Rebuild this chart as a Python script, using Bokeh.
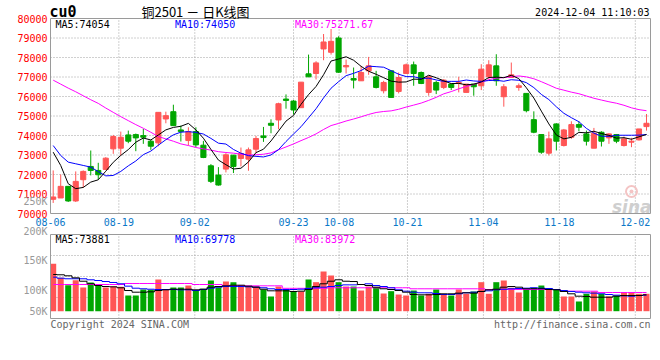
from bokeh.plotting import figure
from bokeh.models import Range1d, ColumnDataSource
from bokeh.embed import file_html
from bokeh.resources import INLINE
from bokeh.core.properties import value

# ---------------- data ----------------
dates = ["08-06", "08-19", "09-02", "09-23", "10-08", "10-21", "11-04", "11-18", "12-02"]
date_idx = [0, 9, 19, 32, 38, 47, 57, 67, 77]

opens = [70728, 70796, 71392, 70643, 71732, 72413, 72209, 72260, 73315, 73349,
         74030, 74047, 73996, 73707, 73622, 74847, 75221, 74285, 73741, 74200,
         73503, 72447, 71971, 72277, 72992, 72822, 72788, 73298, 73979, 74626,
         74796, 75868, 75766, 75426, 77162, 77179, 78438, 78268, 79000, 77520,
         76920, 76805, 77316, 77009, 76295, 77316, 76261, 77180, 77622, 77231,
         76210, 76720, 76465, 76635, 76670, 76210, 76635, 76550, 77009, 77571,
         75988, 76975, 76465, 76159, 74814, 74048, 73095, 74593, 73486, 73912,
         74559, 74082, 73350, 74167, 73878, 74048, 73486, 73657, 73776, 74456]
highs = [72209, 72004, 71392, 72158, 72209, 73230, 72600, 72889, 74030, 74200,
         74251, 74100, 74336, 73775, 75187, 75221, 75579, 74506, 74421, 74421,
         73724, 72533, 72379, 73094, 72992, 73383, 73383, 73979, 74439, 74830,
         75681, 76107, 75817, 76736, 78149, 77809, 79204, 79460, 79085, 77894,
         77486, 77571, 78031, 77316, 76805, 77316, 77231, 77690, 77792, 77282,
         77060, 76805, 76890, 76635, 77009, 76635, 76635, 77656, 77860, 78167,
         76635, 77741, 76669, 76159, 75239, 74048, 74201, 74627, 74337, 74729,
         74729, 74252, 74388, 74218, 74116, 74048, 73946, 73878, 74337, 75103]
lows = [70541, 70796, 70592, 70592, 71324, 71953, 71749, 72260, 73060, 72975,
        73605, 73196, 73571, 73264, 73451, 74626, 74506, 73690, 73485, 73400,
        72839, 71562, 71426, 72107, 72073, 72413, 72192, 73094, 73673, 74115,
        74320, 75375, 75085, 75426, 77009, 76873, 77860, 78149, 77213, 77179,
        76414, 76805, 77112, 76414, 76159, 75954, 76159, 77180, 76550, 76635,
        76039, 76124, 76380, 76329, 76210, 76210, 76039, 76329, 76890, 76550,
        75478, 76975, 76295, 75188, 74116, 73061, 72976, 73231, 73435, 73827,
        74218, 73486, 73350, 73435, 73571, 73605, 73435, 73401, 73742, 74252]
closes = [70847, 71392, 70643, 71647, 72158, 72209, 71987, 72838, 73945, 73911,
          73707, 73877, 73911, 73451, 75187, 75017, 74506, 74200, 74200, 73519,
          72873, 71648, 71460, 73009, 72413, 73077, 73264, 73843, 73894, 74524,
          75630, 75800, 75307, 76736, 77009, 77724, 78796, 78830, 77247, 77588,
          76840, 77231, 77571, 76465, 76720, 75954, 76975, 77622, 77180, 76669,
          77009, 76329, 76839, 76465, 76720, 76635, 76499, 77401, 77622, 76805,
          76499, 77112, 76550, 75273, 74167, 73146, 73827, 73708, 74286, 74559,
          74423, 73708, 74116, 73708, 74082, 73708, 73827, 73708, 74337, 74627]

ma5 = [73145, 72464, 71528, 71273, 71337, 71610, 71729, 72168, 72627, 72978,
       73278, 73656, 73870, 73771, 74027, 74289, 74414, 74472, 74622, 74288,
       73860, 73288, 72740, 72502, 72281, 72321, 72645, 73121, 73298, 73720,
       74231, 74738, 75031, 75599, 76096, 76515, 77114, 77819, 77921, 78037,
       77860, 77547, 77295, 77139, 76965, 76788, 76737, 76747, 76890, 76880,
       77091, 76962, 76805, 76662, 76672, 76598, 76632, 76744, 76975, 76992,
       76965, 77088, 76918, 76448, 75920, 75250, 74593, 74024, 73827, 73905,
       74161, 74137, 74218, 74103, 74007, 73864, 73888, 73807, 73932, 74054]
ma10 = [73485, 72975, 72634, 72549, 72464, 72378, 72150, 71930, 71950, 72158,
        72444, 72693, 73019, 73199, 73503, 73784, 74035, 74171, 74197, 74158,
        74075, 73851, 73606, 73562, 73285, 73091, 72967, 72931, 72900, 73001,
        73276, 73692, 74076, 74449, 74908, 75373, 75926, 76425, 76760, 77067,
        77188, 77331, 77557, 77530, 77501, 77324, 77142, 77021, 77015, 76923,
        76940, 76850, 76776, 76776, 76776, 76845, 76797, 76775, 76819, 76832,
        76782, 76860, 76831, 76712, 76456, 76108, 75841, 75471, 75138, 74913,
        74706, 74365, 74121, 73965, 73956, 74013, 74013, 74013, 74018, 74050]
ma30 = [76838, 76634, 76430, 76242, 76038, 75834, 75647, 75408, 75187, 74966,
        74762, 74558, 74370, 74166, 73945, 73826, 73707, 73570, 73485, 73384,
        73315, 73250, 73170, 73128, 73094, 73043, 73000, 73010, 73040, 73105,
        73265, 73412, 73567, 73737, 73898, 74082, 74309, 74509, 74619, 74742,
        74846, 74958, 75080, 75180, 75231, 75263, 75345, 75459, 75558, 75663,
        75801, 75957, 76137, 76252, 76395, 76514, 76622, 76740, 76865, 76941,
        76970, 77013, 77055, 77006, 76911, 76759, 76593, 76422, 76324, 76223,
        76142, 76025, 75909, 75818, 75730, 75655, 75550, 75419, 75325, 75272]

# volume, in thousands (K)
vol = [145.1, 121.6, 109.2, 117.6, 105.4, 113.8, 108.2, 105.4, 107.0, 106.5,
       91.9, 91.9, 102.0, 101.5, 118.8, 101.5, 105.4, 105.4, 108.7, 100.3,
       103.2, 117.1, 105.4, 115.4, 114.3, 109.2, 107.6, 107.6, 102.0, 90.3,
       107.0, 102.0, 98.7, 98.7, 118.8, 114.3, 132.2, 125.5, 114.3, 107.0,
       107.0, 100.3, 107.0, 105.9, 95.3, 99.2, 93.6, 91.9, 100.3, 91.9,
       94.8, 102.0, 93.6, 91.9, 102.0, 94.8, 98.7, 114.3, 94.8, 114.3,
       117.1, 104.9, 97.0, 103.2, 104.9, 108.7, 103.2, 101.5, 90.3, 90.3,
       81.9, 94.8, 98.7, 94.8, 90.3, 91.9, 96.5, 96.5, 94.8, 94.8]
vma5 = [127.2, 126.7, 125.0, 121.6, 115.9, 111.6, 108.7, 107.0, 106.5, 104.9,
        100.3, 97.5, 97.5, 98.1, 100.3, 101.5, 102.5, 102.5, 102.5, 101.5,
        102.5, 105.9, 107.0, 108.2, 109.2, 109.2, 107.6, 105.9, 102.5, 99.8,
        99.8, 99.8, 98.7, 99.2, 102.0, 107.0, 111.6, 115.9, 118.3, 115.9,
        115.4, 110.4, 108.7, 105.9, 103.2, 102.0, 100.3, 97.5, 93.6, 93.1,
        93.1, 93.6, 94.8, 94.8, 95.9, 96.5, 95.9, 98.7, 101.5, 102.5,
        105.9, 107.0, 105.9, 103.2, 103.2, 103.2, 102.0, 101.5, 98.7, 94.8,
        90.8, 90.3, 89.1, 89.1, 89.1, 90.8, 91.9, 91.9, 91.9, 93.1]
vma10 = [122.7, 121.0, 120.0, 120.0, 120.0, 118.3, 117.1, 115.4, 113.8, 111.6,
         107.6, 104.2, 103.2, 102.5, 102.0, 102.0, 102.0, 101.5, 101.5, 100.3,
         102.0, 104.2, 105.9, 107.0, 107.0, 107.0, 106.5, 105.9, 104.9, 103.2,
         102.0, 102.0, 102.0, 102.5, 103.7, 104.9, 105.9, 107.0, 108.7, 109.8,
         109.8, 110.4, 111.6, 108.7, 107.0, 104.9, 101.5, 99.2, 97.5, 96.5,
         96.5, 95.3, 93.6, 93.6, 94.8, 96.5, 97.5, 98.7, 99.8, 101.5,
         102.5, 103.2, 103.7, 104.2, 104.9, 104.2, 103.7, 102.0, 100.3, 98.7,
         97.5, 96.5, 95.9, 94.8, 93.6, 92.5, 91.4, 90.8, 91.9, 92.5]
vma30 = [110.4, 110.4, 110.4, 110.4, 110.4, 110.4, 110.4, 110.4, 110.4, 110.4,
         112.1, 112.1, 112.1, 112.1, 112.1, 112.1, 112.1, 112.1, 112.1, 110.4,
         110.4, 110.4, 110.4, 108.2, 108.2, 108.2, 108.2, 108.2, 108.2, 108.2,
         108.2, 104.0, 104.0, 104.0, 104.0, 104.0, 104.0, 104.9, 104.9, 104.9,
         104.9, 104.9, 104.9, 104.9, 104.9, 104.9, 104.9, 104.9, 103.2, 103.2,
         103.2, 103.2, 103.2, 103.2, 103.2, 103.2, 103.2, 103.2, 102.0, 102.0,
         102.0, 102.0, 102.0, 102.0, 102.0, 102.0, 102.0, 102.0, 99.2, 99.2,
         99.2, 99.2, 99.2, 97.0, 97.0, 97.0, 97.0, 97.0, 97.0, 97.0]

price_ticks = [70000, 71000, 72000, 73000, 74000, 75000, 76000, 77000, 78000, 79000, 80000]
vol_ticks = [250, 200, 150, 100, 50]
vol_tick_text = ["250K", "200K", "150K", "100K", "50K"]

ma_price_text = ["MA5:74054", "MA10:74050", "MA30:75271.67"]
ma_vol_text = ["MA5:73881", "MA10:69778", "MA30:83972"]
title_code = "cu0"
title_cn = "铜2501 － 日K线图"
stamp = "2024-12-04 11:10:03"
copyright_text = "Copyright 2024 SINA.COM"
url_text = "http://finance.sina.com.cn"
logo_text = "sina"

# ---------------- layout constants (pixels) ----------------
W, H = 660, 340
CX0, CDX = 52.7, 7.51          # centre of first candle, candle spacing
GX0, GDX = 50.0, 600.0 / 79    # date grid origin and spacing
PY0, PDY = 213.0, 19.5         # y of 70000, px per 1000
VY0, VDY = 290.2, 0.596        # y of 100K, px per 1K
PANEL_L, PANEL_R = 50, 650
V_TOP, V_BOT = 234, 318
VOL_BASE_Y = 310.7


def px2x(px):
    return (px - CX0) / CDX


def px2g(px):
    return (px - GX0) / GDX


def py2p(py):
    return 70000 + (PY0 - py) / PDY * 1000


def py2v(py):
    return 100 + (VY0 - py) / VDY


# ---------------- style ----------------
RED = "#FF5555"
GREEN = "#00A600"
MONO = "DejaVu Sans Mono"
GRIDC = "#A0A0A0"
BORDERC = "#9A9A9A"
MA_COLORS = ["#000000", "#0000FF", "#FF00FF"]

N = len(closes)
idx = list(range(N))
colors = [RED if c >= o else GREEN for o, c in zip(opens, closes)]
src = ColumnDataSource(dict(
    x=idx, high=highs, low=lows,
    top=[max(o, c) for o, c in zip(opens, closes)],
    bottom=[min(o, c) for o, c in zip(opens, closes)],
    color=colors, vol=vol))

p = figure(width=W, height=H,
           x_range=Range1d(px2x(0), px2x(W)), y_range=Range1d(py2p(H), py2p(0)),
           x_axis_location=None, y_axis_location=None, min_border=0,
           output_backend="svg", toolbar_location=None)
p.extra_x_ranges = {"grid": Range1d(px2g(0), px2g(W))}
p.extra_y_ranges = {"vol": Range1d(py2v(H), py2v(0))}
p.outline_line_color = None
p.background_fill_color = "white"
p.border_fill_color = "white"
p.xgrid.visible = False
p.ygrid.visible = False

xl, xr = px2x(PANEL_L), px2x(PANEL_R)
gt = date_idx[1:]
vb, vt = py2v(V_BOT), py2v(V_TOP)
VOL_BASE = py2v(VOL_BASE_Y)

# grid lines
inner = price_ticks[1:-1]
p.segment(x0=[xl] * len(inner), x1=[xr] * len(inner), y0=inner, y1=inner,
          line_color=GRIDC, line_dash="1 2", line_width=1)
p.segment(x0=gt, x1=gt, y0=[70000] * len(gt), y1=[80000] * len(gt), x_range_name="grid",
          line_color=GRIDC, line_dash="1 2", line_width=1)
vq = [vb + (vt - vb) * k / 4 for k in (1, 2, 3)]
p.segment(x0=[xl] * 3, x1=[xr] * 3, y0=vq, y1=vq, y_range_name="vol",
          line_color=GRIDC, line_dash="1 2", line_width=1)
p.segment(x0=gt, x1=gt, y0=[vb] * len(gt), y1=[vt] * len(gt), x_range_name="grid",
          y_range_name="vol", line_color=GRIDC, line_dash="1 2", line_width=1)

# sina watermark (eye + word)
p.scatter(x=[px2x(631)], y=[py2p(191)], marker="circle", size=11, fill_color=None,
          line_color="#F4C4C4", line_width=2)
p.scatter(x=[px2x(631)], y=[py2p(191)], marker="circle", size=4, fill_color="#F4C4C4",
          line_color=None)
p.text(x=[px2x(651)], y=[py2p(206)], text=[logo_text], text_align="right",
       text_baseline="alphabetic", text_font=value("DejaVu Sans"),
       text_font_style="bold italic", text_font_size=value("17px"), text_color="#CFCFCF")

# candles
p.segment(x0="x", y0="low", x1="x", y1="high", color="color", line_width=1, source=src)
p.vbar(x="x", top="top", bottom="bottom", width=0.68, fill_color="color",
       line_color="color", line_width=1, source=src)
for arr, c in zip([ma30, ma10, ma5], MA_COLORS[::-1]):
    p.line(idx, arr, color=c, line_width=1)

# volume
p.vbar(x="x", top="vol", bottom=VOL_BASE, width=0.8, fill_color="color",
       line_color=None, source=src, y_range_name="vol")
for arr, c in zip([vma30, vma10, vma5], MA_COLORS[::-1]):
    p.step(idx, arr, mode="center", color=c, line_width=1, y_range_name="vol")

# panel borders
p.quad(left=[xl], right=[xr], bottom=[70000], top=[80000], fill_color=None,
       line_color=BORDERC, line_width=1)
p.quad(left=[xl], right=[xr], bottom=[vb], top=[vt], fill_color=None,
       line_color=BORDERC, line_width=1, y_range_name="vol")


def texts(xs, ys, ts, color, size="10px", font=MONO, align="left", style="normal", **kw):
    p.text(x=xs, y=ys, text=ts, text_align=align, text_baseline="middle",
           text_font=value(font), text_font_size=value(size), text_font_style=style,
           text_color=color, **kw)


# axis labels
texts([px2x(47)] * len(price_ticks), price_ticks, [str(t) for t in price_ticks], "#FF0000", align="right")
texts([px2x(47)] * len(vol_ticks), [max(v, VOL_BASE) for v in vol_ticks], vol_tick_text, "#999999",
      align="right", y_range_name="vol")
texts(date_idx, [py2p(221.7)] * len(date_idx), dates, "#0A78C8", align="center", x_range_name="grid")

# headers
ma_x = [px2x(55), px2x(174.5), px2x(294.5)]
for t, xx, c in zip(ma_price_text, ma_x, MA_COLORS):
    texts([xx], [py2p(24)], [t], c)
for t, xx, c in zip(ma_vol_text, ma_x, MA_COLORS):
    texts([xx], [py2p(238.5)], [t], c)

texts([px2x(49)], [py2p(11.5)], [title_code], "#000000", size="15px", style="bold")
texts([px2x(195)], [py2p(10.5)], [title_cn], "#000000", size="13px", font="Noto Sans CJK SC", align="center")
texts([px2x(649)], [py2p(12)], [stamp], "#000000", align="right")
texts([px2x(50)], [py2p(323.5)], [copyright_text], "#666666")
texts([px2x(650)], [py2p(324)], [url_text], "#666666", align="right")

open("out.html", "w").write(file_html(p, INLINE))
